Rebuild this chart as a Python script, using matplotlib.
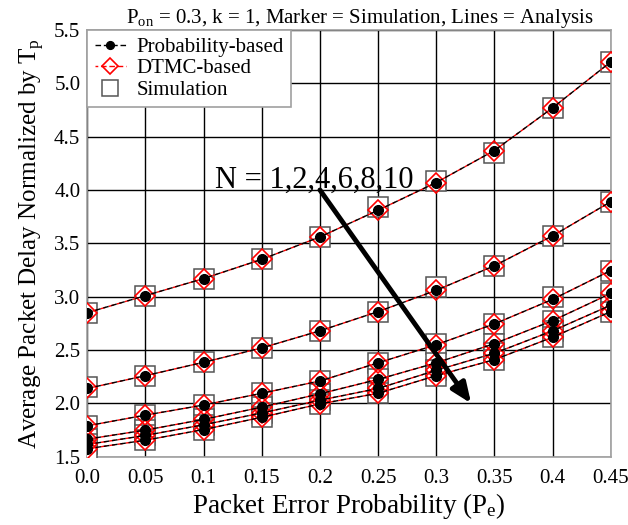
import matplotlib
matplotlib.use("Agg")
import matplotlib.pyplot as plt
import numpy as np

# Data (N = 1,2,4,6,8,10, top to bottom)
pe = [0.0, 0.05, 0.1, 0.15, 0.2, 0.25, 0.3, 0.35, 0.4, 0.45]
n_values = [1, 2, 4, 6, 8, 10]

analysis = [
    [2.85, 3.01, 3.17, 3.35, 3.56, 3.81, 4.07, 4.37, 4.77, 5.20],
    [2.14, 2.26, 2.385, 2.52, 2.68, 2.86, 3.06, 3.29, 3.57, 3.89],
    [1.79, 1.89, 1.985, 2.095, 2.21, 2.38, 2.55, 2.745, 2.975, 3.245],
    [1.665, 1.75, 1.85, 1.965, 2.09, 2.225, 2.38, 2.56, 2.775, 3.03],
    [1.615, 1.70, 1.80, 1.91, 2.03, 2.14, 2.31, 2.47, 2.68, 2.92],
    [1.575, 1.655, 1.755, 1.87, 1.995, 2.095, 2.26, 2.41, 2.62, 2.86],
]

simulation = [
    [2.85, 3.01, 3.17, 3.35, 3.56, 3.84, 4.08, 4.35, 4.77, 5.20],
    [2.15, 2.26, 2.385, 2.52, 2.68, 2.86, 3.09, 3.29, 3.57, 3.89],
    [1.79, 1.89, 1.985, 2.095, 2.21, 2.38, 2.56, 2.745, 3.00, 3.245],
    [1.665, 1.75, 1.85, 1.965, 2.09, 2.225, 2.38, 2.56, 2.775, 3.03],
    [1.615, 1.70, 1.80, 1.91, 2.03, 2.14, 2.31, 2.47, 2.68, 2.92],
    [1.575, 1.655, 1.755, 1.87, 1.995, 2.095, 2.26, 2.41, 2.62, 2.86],
]

plt.rcParams["font.family"] = ["Liberation Serif", "DejaVu Serif"]
plt.rcParams["mathtext.fontset"] = "custom"
plt.rcParams["mathtext.rm"] = "Liberation Serif"
plt.rcParams["mathtext.it"] = "Liberation Serif"

fig = plt.figure(figsize=(6.28, 5.25), dpi=100)
ax = fig.add_axes([0.139, 0.130, 0.8335, 0.813])

for i in range(len(n_values)):
    ax.plot(pe, simulation[i], linestyle="none", marker="s", markersize=14,
            markerfacecolor="white", markeredgecolor="#555555",
            markeredgewidth=1.1, zorder=3,
            label="Simulation" if i == 0 else None)
    ax.plot(pe, analysis[i], color="red", linestyle=(2, (4, 2)), linewidth=1.0,
            marker="D", markersize=10, markerfacecolor="none",
            markeredgecolor="red", markeredgewidth=1.2, zorder=4,
            label="DTMC-based" if i == 0 else None)
    ax.plot(pe, analysis[i], color="black", linestyle=(0, (4, 2)), linewidth=1.0,
            marker="o", markersize=7, markerfacecolor="black",
            markeredgecolor="black", zorder=5,
            label="Probability-based" if i == 0 else None)

# arrow marking increasing N
ax.annotate("", xy=(0.33, 2.0), xytext=(0.2, 4.0),
            arrowprops=dict(arrowstyle="-|>,head_length=1.2,head_width=0.5",
                            color="black", lw=3.5, shrinkA=0, shrinkB=0),
            zorder=6)
ax.text(0.11, 4.02, "N = 1,2,4,6,8,10", fontsize=22, ha="left", va="baseline",
        zorder=7)

ax.set_xlim(0, 0.45)
ax.set_ylim(1.5, 5.5)
ax.set_xticks(pe)
ax.set_xticklabels(["0.0", "0.05", "0.1", "0.15", "0.2", "0.25", "0.3",
                    "0.35", "0.4", "0.45"])
ax.set_yticks(np.arange(1.5, 5.51, 0.5))
ax.set_yticklabels(["1.5", "2.0", "2.5", "3.0", "3.5", "4.0", "4.5", "5.0", "5.5"])
ax.tick_params(length=0, labelsize=15)
ax.tick_params(axis="x", pad=9)
ax.tick_params(axis="y", pad=5)
ax.grid(True, color="black", linewidth=1.0)
ax.set_axisbelow(True)
for s in ax.spines.values():
    s.set_color("#a0a0a0")
    s.set_linewidth(1.2)

ax.set_xlabel(r"Packet Error Probability (P$_\mathregular{e}$)", fontsize=19.5,
              labelpad=2)
ax.set_ylabel(r"Average Packet Delay Normalized by T$_\mathregular{p}$",
              fontsize=18, labelpad=5)
ax.set_title(r"P$_\mathregular{on}$ = 0.3, k = 1, Marker = Simulation, Lines = Analysis",
             fontsize=15, pad=4, x=0.52)

handles, labels = ax.get_legend_handles_labels()
order = [labels.index("Probability-based"), labels.index("DTMC-based"),
         labels.index("Simulation")]
leg = ax.legend([handles[k] for k in order], [labels[k] for k in order],
                loc="upper left", borderaxespad=0, fontsize=15,
                fancybox=False, framealpha=1, edgecolor="#a0a0a0",
                handlelength=1.5, handletextpad=0.5, borderpad=0.35,
                labelspacing=0.1, markerscale=0.8)
leg.get_frame().set_linewidth(1.2)
leg.set_zorder(10)

fig.savefig("out.png", dpi=100)
